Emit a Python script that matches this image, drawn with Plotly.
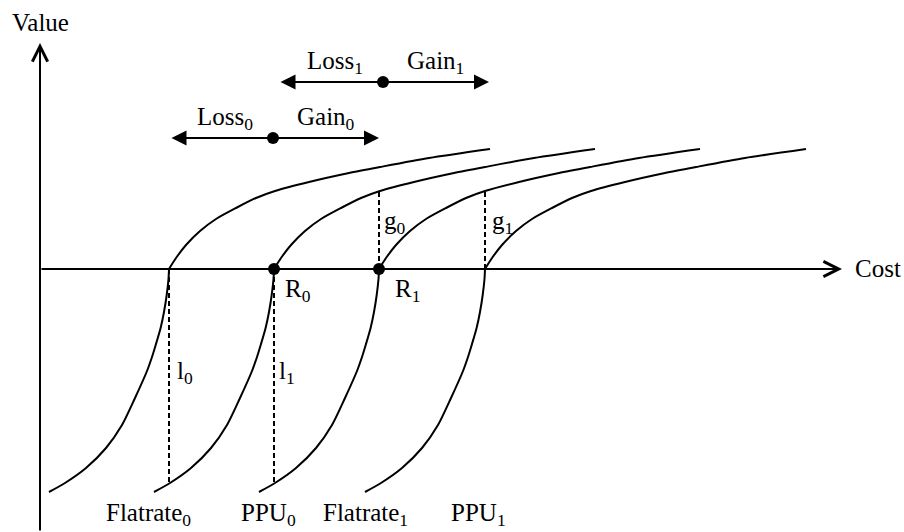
import plotly.graph_objects as go

# ---- data (units: cost / value, origin at axis crossing) ----
# Reference points of the four value functions on the Cost axis
curve_ref_cost = [169, 274, 379, 485]
bottom_labels = ["Flatrate<sub>0</sub>", "PPU<sub>0</sub>", "Flatrate<sub>1</sub>", "PPU<sub>1</sub>"]
bottom_label_cost = [148, 268, 365, 478]
bottom_label_value = -245

# Shape of one value function relative to its reference point
loss_dx = [-120, -104, -83, -63, -47, -34, -22, -17, -13.3, -8.4, -5, -2.3, -0.5, 0]
loss_dv = [-223, -214, -199, -179, -156, -129, -102, -88, -76, -59, -43, -26, -10, 0]
gain_dx = [0, 7, 17, 31, 47, 67, 87, 106, 140, 180, 211, 260, 321]
gain_dv = [0, 11, 24, 38, 50, 61, 71, 78, 87, 96, 102, 111, 120]

# Reference dots on the axis
dot_labels = ["R<sub>0</sub>", "R<sub>1</sub>"]
dot_cost = [274, 379]
dot_label_pos = [(298, -21), (407, -21)]

# Dashed drop lines
loss_line_labels = ["l<sub>0</sub>", "l<sub>1</sub>"]
loss_line_cost = [169, 274]
loss_line_value = [-214, -214]
loss_label_pos = [(185, -103), (287, -103)]
gain_line_labels = ["g<sub>0</sub>", "g<sub>1</sub>"]
gain_line_cost = [379, 485]
gain_line_value = [78, 78]
gain_label_pos = [(395, 47), (502, 47)]

# Loss / Gain double arrows
arrow_center = [273, 383]
arrow_left = [170, 279]
arrow_right = [379, 489]
arrow_value = [131, 187]
loss_labels = ["Loss<sub>0</sub>", "Loss<sub>1</sub>"]
gain_labels = ["Gain<sub>0</sub>", "Gain<sub>1</sub>"]
loss_label_cost = [225, 335]
gain_label_cost = [326, 435]
arrow_label_value = [151, 207]

# Axes extents
x_axis_start, x_axis_end = 40, 842
y_axis_start, y_axis_end = -263, 226

FONT = dict(family="Liberation Serif", size=25, color="black")
LW = 2

fig = go.Figure()

# value-function curves
for r in curve_ref_cost:
    fig.add_trace(go.Scatter(x=[r + d for d in loss_dx], y=loss_dv, mode="lines",
                             line=dict(color="black", width=LW, shape="spline", smoothing=0.7),
                             hoverinfo="skip", showlegend=False))
    fig.add_trace(go.Scatter(x=[r + d for d in gain_dx], y=gain_dv, mode="lines",
                             line=dict(color="black", width=LW, shape="spline", smoothing=0.7),
                             hoverinfo="skip", showlegend=False))

# dashed lines
for c, v in zip(loss_line_cost + gain_line_cost, loss_line_value + gain_line_value):
    fig.add_trace(go.Scatter(x=[c, c], y=[0, v], mode="lines",
                             line=dict(color="black", width=LW, dash="5px,3px"),
                             hoverinfo="skip", showlegend=False))

annotations = []

# axes with open arrowheads
annotations.append(dict(x=x_axis_end, y=0, ax=x_axis_start, ay=0, axref="x", ayref="y",
                        xref="x", yref="y", text="", showarrow=True, arrowhead=5,
                        arrowsize=1.5, arrowwidth=LW, arrowcolor="black", standoff=0))
annotations.append(dict(x=x_axis_start, y=y_axis_end, ax=x_axis_start, ay=y_axis_start,
                        axref="x", ayref="y", xref="x", yref="y", text="", showarrow=True,
                        arrowhead=5, arrowsize=1.5, arrowwidth=LW, arrowcolor="black", standoff=0))

# loss/gain double arrows
for l, r, v in zip(arrow_left, arrow_right, arrow_value):
    annotations.append(dict(x=r, y=v, ax=l, ay=v, axref="x", ayref="y", xref="x", yref="y",
                            text="", showarrow=True, arrowhead=2, startarrowhead=2,
                            arrowside="end+start", arrowsize=1.5, startarrowsize=1.5,
                            arrowwidth=LW, arrowcolor="black", standoff=0, startstandoff=0))

def label(x, y, t):
    annotations.append(dict(x=x, y=y, xref="x", yref="y", text=t, showarrow=False,
                            font=FONT, xanchor="center", yanchor="middle"))

for x, t in zip(bottom_label_cost, bottom_labels):
    label(x, bottom_label_value, t)
for (x, y), t in zip(dot_label_pos, dot_labels):
    label(x, y, t)
for (x, y), t in zip(loss_label_pos, loss_line_labels):
    label(x, y, t)
for (x, y), t in zip(gain_label_pos, gain_line_labels):
    label(x, y, t)
for x, v, t in zip(loss_label_cost, arrow_label_value, loss_labels):
    label(x, v, t)
for x, v, t in zip(gain_label_cost, arrow_label_value, gain_labels):
    label(x, v, t)
label(40, 247, "Value")
label(878, 1, "Cost")

# dots
fig.add_trace(go.Scatter(x=dot_cost + arrow_center, y=[0, 0] + arrow_value, mode="markers",
                         marker=dict(color="black", size=12), hoverinfo="skip", showlegend=False))

fig.update_layout(
    width=904, height=532, margin=dict(l=0, r=0, t=0, b=0),
    paper_bgcolor="white", plot_bgcolor="white",
    xaxis=dict(range=[0, 904], visible=False, fixedrange=True),
    yaxis=dict(range=[-263, 269], visible=False, fixedrange=True),
    annotations=annotations, font=FONT, hovermode=False,
)

fig.write_html("out.html", config={"displayModeBar": False},
               post_script="document.body.style.margin='0';document.body.style.overflow='hidden';")
